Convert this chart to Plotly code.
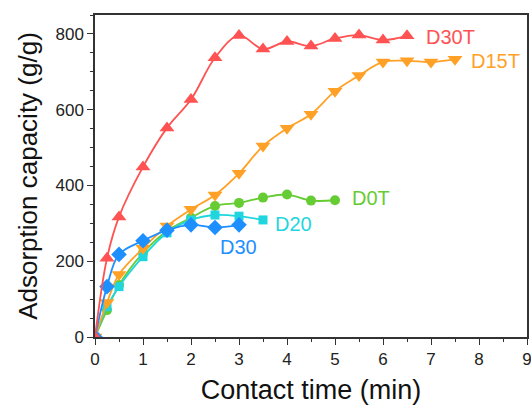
import plotly.graph_objects as go

# Data
t_d30t = [0, 0.25, 0.5, 1, 1.5, 2, 2.5, 3, 3.5, 4, 4.5, 5, 5.5, 6, 6.5]
q_d30t = [0, 208, 317, 449, 552, 627, 737, 796, 760, 780, 768, 788, 797, 784, 795]

t_d15t = [0, 0.25, 0.5, 1, 1.5, 2, 2.5, 3, 3.5, 4, 4.5, 5, 5.5, 6, 6.5, 7, 7.5]
q_d15t = [0, 91, 165, 234, 293, 337, 375, 432, 504, 551, 588, 649, 690, 726, 729, 726, 733]

t_d0t = [0, 0.25, 0.5, 1, 1.5, 2, 2.5, 3, 3.5, 4, 4.5, 5]
q_d0t = [0, 71, 137, 222, 280, 315, 346, 354, 368, 376, 360, 361]

t_d20 = [0, 0.25, 0.5, 1, 1.5, 2, 2.5, 3, 3.5]
q_d20 = [0, 80, 133, 212, 275, 309, 322, 319, 309]

t_d30 = [0, 0.25, 0.5, 1, 1.5, 2, 2.5, 3]
q_d30 = [0, 133, 218, 254, 282, 296, 289, 296]

labels = ["D30T", "D15T", "D0T", "D20", "D30"]
label_x = [7.4, 8.34, 5.74, 4.14, 2.98]
label_y = [792, 729, 367, 298, 238]

colors = ["#FF5252", "#FFA126", "#66CC33", "#1FD6DE", "#1E8FFF"]

series = [
    (t_d30t, q_d30t, "triangle-up", 13),
    (t_d15t, q_d15t, "triangle-down", 13),
    (t_d0t, q_d0t, "circle", 10),
    (t_d20, q_d20, "square", 9),
    (t_d30, q_d30, "diamond", 12),
]

fig = go.Figure()
order = [2, 3, 1, 4, 0]
for i in order:
    x, y, sym, sz = series[i]
    fig.add_trace(go.Scatter(
        x=x, y=y, mode="lines+markers", name=labels[i],
        line=dict(color=colors[i], width=1.8, shape="spline", smoothing=1.0),
        marker=dict(symbol=sym, size=sz, color=colors[i]),
        showlegend=False,
    ))

for lab, lx, ly, c in zip(labels, label_x, label_y, colors):
    fig.add_annotation(x=lx, y=ly, text=lab, showarrow=False,
                       font=dict(size=20, color=c, family="Liberation Sans, Arial"),
                       xanchor="center", yanchor="middle")

axis_common = dict(
    showline=True, linecolor="#333333", linewidth=1.5, mirror=True,
    ticks="outside", ticklen=6, tickwidth=1.3, tickcolor="#333333",
    showgrid=False, zeroline=False, automargin=False,
    ticklabeloverflow="allow",
    tickfont=dict(size=17, color="#222222", family="Liberation Sans, Arial"),
)

fig.update_xaxes(range=[0, 9], dtick=1,
                 minor=dict(dtick=0.5, ticks="outside", ticklen=3, tickcolor="#333333", tickwidth=1.2),
                 title=dict(text="Contact time (min)", font=dict(size=27, color="#111111", family="Liberation Sans, Arial"), standoff=14),
                 **axis_common)
fig.update_yaxes(range=[0, 850], tickvals=[0, 200, 400, 600, 800],
                 minor=dict(tickvals=[50, 100, 150, 250, 300, 350, 450, 500, 550, 650, 700, 750, 850], ticks="outside", ticklen=3, tickcolor="#333333", tickwidth=1.2),
                 title=dict(text="Adsorption capacity (g/g)", font=dict(size=26, color="#111111", family="Liberation Sans, Arial"), standoff=10),
                 **axis_common)

fig.update_layout(
    width=531, height=405,
    margin=dict(l=95, r=4, t=15, b=68),
    paper_bgcolor="white", plot_bgcolor="white",
)

fig.write_html("out.html")
